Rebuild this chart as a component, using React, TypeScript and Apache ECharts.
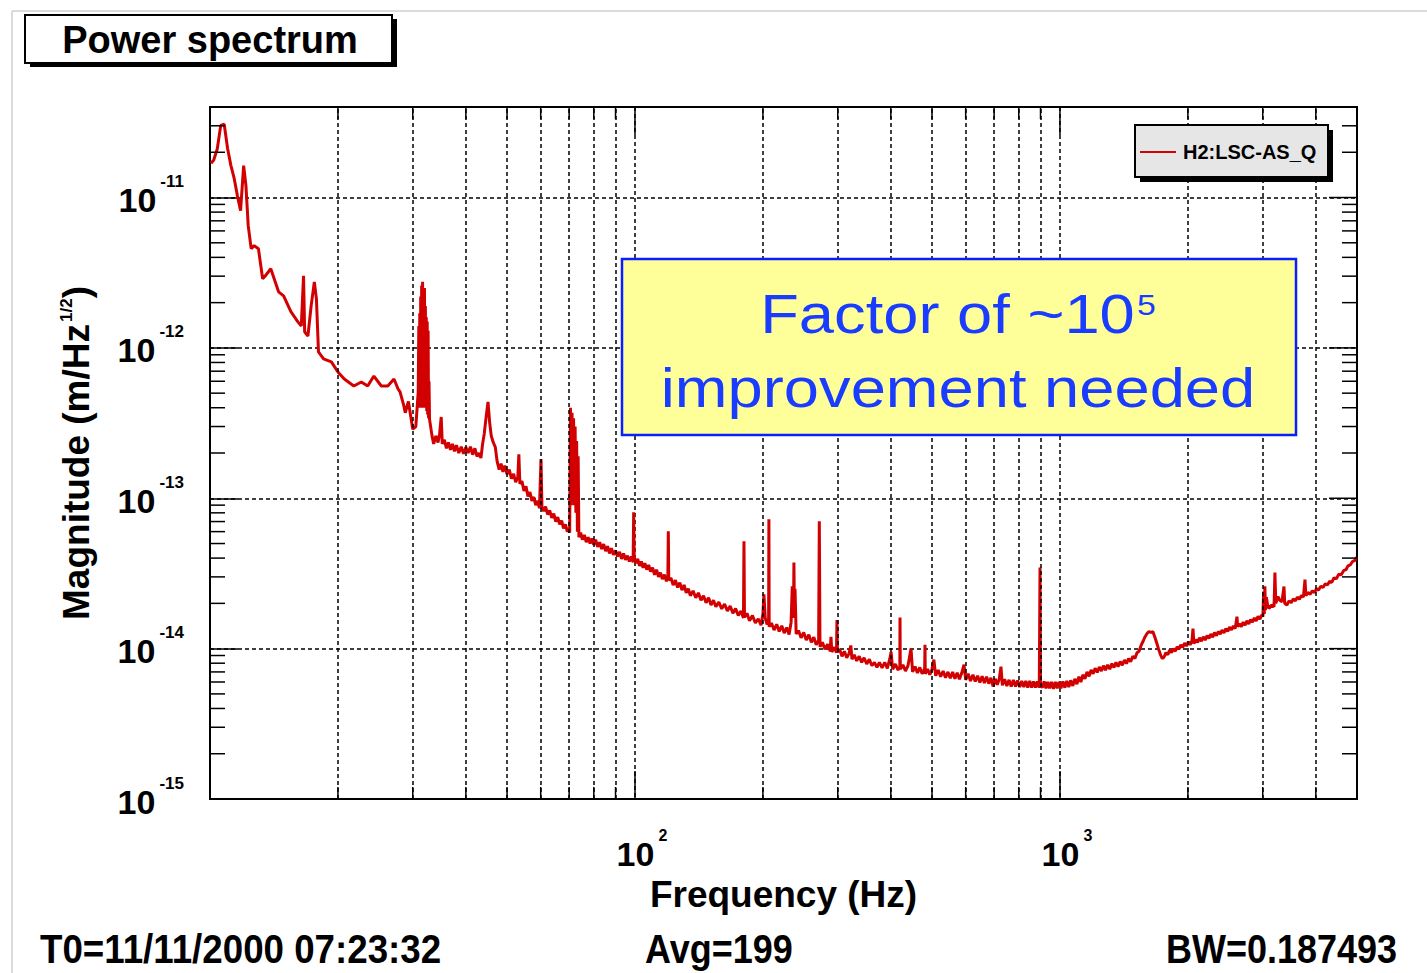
import React, { useEffect, useRef } from 'react';
import * as echarts from 'echarts';

const X_MIN = 10;
const X_MAX = 5000;
const Y_MIN = 1e-15;
const Y_MAX = 4e-11;

const SERIES_NAME = 'H2:LSC-AS_Q';
const TITLE = 'Power spectrum';
const X_NAME = 'Frequency (Hz)';
const INFO_TEXTS = ['T0=11/11/2000 07:23:32', 'Avg=199', 'BW=0.187493'];
const NOTE_LINE1 = 'Factor of ~10';
const NOTE_SUP = '5';
const NOTE_LINE2 = 'improvement needed';

// [frequency (Hz), magnitude (m/Hz^1/2)]
const lowBand = [
  [10.05, 1.69e-11], [10.2, 1.77e-11], [10.4, 2.1e-11], [10.6, 3.02e-11], [10.8, 3.07e-11], [11.0, 2.12e-11], [11.2, 1.63e-11],
  [11.4, 1.34e-11], [11.6, 1.03e-11], [11.8, 8.18e-12], [11.9, 1.15e-11], [12.0, 1.63e-11], [12.15, 1.2e-11], [12.3, 6.5e-12],
  [12.5, 4.57e-12], [12.7, 4.79e-12], [13.0, 4.57e-12], [13.3, 2.88e-12], [13.5, 3.02e-12], [13.9, 3.36e-12], [14.5, 2.36e-12],
  [14.9, 2.22e-12], [15.5, 1.74e-12], [16.1, 1.49e-12], [16.4, 1.4e-12], [16.6, 3.02e-12], [16.7, 1.28e-12], [17.0, 1.2e-12],
  [17.3, 1.91e-12], [17.6, 2.75e-12], [17.8, 2.12e-12], [18.0, 9.4e-13], [18.5, 8.45e-13], [19.3, 8.07e-13], [20.0, 6.92e-13],
  [20.7, 6.21e-13], [21.8, 5.58e-13], [22.7, 5.93e-13], [23.5, 5.58e-13], [24.3, 6.5e-13], [25.3, 5.58e-13], [26.2, 5.58e-13],
  [27.1, 6.21e-13], [27.7, 5.33e-13], [28.0, 5.1e-13], [28.6, 4.1e-13], [28.8, 3.7e-13], [29.3, 4.4e-13], [30.0, 2.88e-13],
  [30.5, 3.0e-13], [30.9, 5.1e-13],
  [31.0, 1.4e-12], [31.08, 4.0e-13], [31.16, 1.7e-12], [31.24, 4.5e-13], [31.32, 2.2e-12], [31.4, 4.0e-13], [31.48, 2.6e-12],
  [31.56, 5.0e-13], [31.64, 2.75e-12], [31.72, 4.5e-13], [31.8, 2.4e-12], [31.88, 4.0e-13], [31.96, 2.5e-12], [32.04, 4.2e-13],
  [32.12, 1.9e-12], [32.2, 4.0e-13], [32.28, 1.6e-12], [32.36, 3.8e-13], [32.44, 1.5e-12], [32.52, 3.6e-13], [32.6, 1.3e-12],
  [32.68, 3.4e-13], [32.76, 6e-13], [32.85, 3.36e-13],
];

const midBand = [
  [33.3, 2.6e-13], [33.6, 2.3e-13], [34.0, 2.6e-13], [34.4, 2.35e-13], [34.7, 2.7e-13], [35.0, 3.47e-13], [35.2, 2.3e-13],
  [35.6, 2.45e-13], [36.0, 2.15e-13], [36.4, 2.35e-13], [36.8, 2.1e-13], [37.2, 2.3e-13], [37.6, 2.05e-13], [38.0, 2.25e-13],
  [38.5, 2.0e-13], [39.0, 2.2e-13], [39.5, 1.98e-13], [40.0, 2.18e-13], [40.5, 2.0e-13], [41.0, 2.2e-13], [41.5, 1.95e-13],
  [42.0, 2.15e-13], [42.5, 1.9e-13], [43.0, 2.0e-13], [43.4, 1.85e-13], [43.8, 2.3e-13], [44.2, 2.7e-13], [44.6, 3.4e-13],
  [45.1, 4.37e-13], [45.5, 3.2e-13], [45.9, 2.6e-13], [46.4, 2.35e-13], [46.9, 2.2e-13], [47.4, 1.75e-13], [47.9, 1.55e-13],
  [48.4, 1.7e-13], [48.9, 1.5e-13], [49.4, 1.65e-13], [50.0, 1.45e-13], [50.6, 1.55e-13], [51.2, 1.35e-13], [51.8, 1.45e-13],
  [52.4, 1.28e-13], [53.0, 1.38e-13], [53.3, 1.96e-13], [53.6, 1.25e-13], [54.2, 1.3e-13], [54.8, 1.12e-13], [55.4, 1.2e-13],
  [56.0, 1.03e-13], [56.6, 1.1e-13], [57.2, 9.6e-14], [57.8, 1.02e-13], [58.4, 9.0e-14], [59.0, 9.6e-14], [59.6, 8.6e-14],
  [60.1, 1.82e-13], [60.4, 8.8e-14], [61.0, 8.2e-14], [61.6, 8.8e-14], [62.3, 7.8e-14], [63.0, 8.3e-14], [63.7, 7.4e-14],
  [64.4, 7.9e-14], [65.1, 7.0e-14], [65.8, 7.5e-14], [66.5, 6.7e-14], [67.2, 7.1e-14], [67.9, 6.3e-14], [68.6, 6.7e-14],
  [69.3, 6.0e-14], [70.0, 6.3e-14],
  [70.2, 5.9e-14], [70.5, 4.0e-13], [70.8, 9e-14], [71.1, 3.7e-13], [71.4, 1.0e-13], [71.7, 3.4e-13], [72.0, 9e-14],
  [72.3, 3.0e-13], [72.6, 8e-14], [72.9, 2.4e-13], [73.2, 6e-14], [73.5, 1.9e-13], [73.8, 5.5e-14],
  [74.5, 5.9e-14], [75.2, 5.3e-14], [76.0, 5.7e-14], [76.8, 5.1e-14], [77.6, 5.5e-14], [78.4, 5.0e-14], [79.2, 5.4e-14],
  [80.0, 4.9e-14], [80.8, 5.3e-14], [81.7, 4.75e-14], [82.6, 5.1e-14], [83.5, 4.6e-14], [84.4, 4.95e-14], [85.3, 4.45e-14],
  [86.2, 4.8e-14], [87.1, 4.3e-14], [88.0, 4.65e-14], [89.0, 4.2e-14], [90.0, 4.5e-14], [91.0, 4.1e-14], [92.0, 4.4e-14],
  [93.0, 3.95e-14], [94.0, 4.3e-14], [95.0, 3.9e-14], [96.0, 4.15e-14], [97.0, 3.8e-14], [98.0, 4.1e-14], [99.0, 3.75e-14],
  [99.3, 8.07e-14], [99.6, 4.0e-14],
];

const highBand = [
  [100.5, 3.7e-14], [101.5, 3.95e-14], [102.5, 3.55e-14], [103.5, 3.8e-14], [104.5, 3.45e-14], [105.5, 3.7e-14], [106.6, 3.35e-14],
  [107.7, 3.6e-14], [108.8, 3.25e-14], [110.0, 3.45e-14], [111.2, 3.1e-14], [112.4, 3.35e-14], [113.6, 3.0e-14], [114.8, 3.2e-14],
  [116.0, 2.9e-14], [117.3, 3.1e-14], [118.6, 2.8e-14], [119.5, 3.0e-14], [119.8, 6.03e-14], [120.1, 2.85e-14], [121.5, 2.95e-14],
  [123.0, 2.65e-14], [124.5, 2.85e-14], [126.0, 2.55e-14], [127.5, 2.75e-14], [129.0, 2.45e-14], [130.5, 2.65e-14], [132.0, 2.35e-14],
  [133.5, 2.5e-14], [135.0, 2.25e-14], [137.0, 2.42e-14], [139.0, 2.18e-14], [141.0, 2.35e-14], [143.0, 2.1e-14], [145.0, 2.25e-14],
  [147.0, 2.02e-14], [149.0, 2.18e-14], [151.0, 1.95e-14], [153.0, 2.1e-14], [155.0, 1.9e-14], [157.5, 2.04e-14], [160.0, 1.84e-14],
  [162.5, 1.98e-14], [165.0, 1.78e-14], [167.5, 1.92e-14], [170.0, 1.72e-14], [172.5, 1.85e-14], [175.0, 1.66e-14], [177.5, 1.78e-14],
  [180.0, 1.6e-14], [180.5, 5.17e-14], [181.0, 1.62e-14], [183.5, 1.72e-14], [186.0, 1.53e-14], [189.0, 1.66e-14], [192.0, 1.48e-14],
  [195.0, 1.58e-14], [198.0, 1.43e-14], [200.0, 1.7e-14], [201.1, 2.3e-14], [202.5, 1.6e-14], [204.5, 1.45e-14], [206.3, 1.5e-14],
  [206.6, 7.24e-14], [206.9, 1.4e-14], [209.5, 1.48e-14], [212.5, 1.33e-14], [215.5, 1.45e-14], [218.5, 1.3e-14], [221.5, 1.42e-14],
  [224.5, 1.27e-14], [227.5, 1.38e-14], [230.5, 1.24e-14], [233.0, 1.5e-14], [234.5, 2.6e-14], [236.0, 1.6e-14], [236.6, 3.74e-14],
  [237.2, 1.8e-14], [238.0, 2.5e-14], [239.5, 1.25e-14], [242.5, 1.32e-14], [246.0, 1.18e-14], [249.5, 1.28e-14], [253.0, 1.14e-14],
  [256.5, 1.24e-14], [260.0, 1.1e-14], [263.5, 1.19e-14], [267.0, 1.06e-14], [270.5, 1.14e-14], [271.5, 7.03e-14], [272.5, 1.03e-14],
  [276.0, 1.1e-14], [280.0, 9.9e-15], [284.0, 1.07e-14], [288.0, 9.6e-15], [289.2, 1.2e-14], [290.5, 9.5e-15], [294.5, 1.02e-14],
  [298.0, 9.4e-15], [298.7, 1.55e-14], [299.5, 9.5e-15], [303.0, 9.9e-15], [307.0, 8.9e-15], [311.0, 9.6e-15], [315.0, 8.7e-15],
  [319.0, 9.3e-15], [322.0, 1.05e-14], [324.0, 8.5e-15], [328.0, 9.1e-15], [332.5, 8.3e-15], [337.0, 8.9e-15], [341.5, 8.1e-15],
  [346.0, 8.7e-15], [351.0, 7.9e-15], [356.0, 8.5e-15], [361.0, 7.7e-15], [366.0, 8.1e-15], [371.0, 7.5e-15], [376.0, 8.1e-15],
  [381.5, 7.45e-15], [387.0, 8.1e-15], [392.5, 7.4e-15], [398.0, 8.6e-15], [400.5, 9.5e-15], [404.0, 7.3e-15], [410.0, 7.9e-15],
  [416.0, 7.2e-15], [420.0, 7.6e-15], [420.4, 1.61e-14], [421.0, 7.3e-15], [427.0, 7.8e-15], [433.0, 7.1e-15], [439.0, 7.7e-15],
  [446.2, 1.0e-14], [450.0, 7.0e-15], [456.0, 7.6e-15], [462.0, 6.9e-15], [468.0, 7.5e-15], [474.0, 6.8e-15], [480.5, 7.4e-15],
  [481.3, 1.06e-14], [482.0, 6.8e-15], [488.0, 7.3e-15], [494.0, 6.7e-15], [500.0, 7.3e-15], [505.0, 8.45e-15], [510.0, 6.6e-15],
  [517.0, 7.2e-15], [524.0, 6.5e-15], [531.0, 7.1e-15], [538.0, 6.4e-15], [545.0, 7.0e-15], [552.0, 6.35e-15], [559.0, 7.0e-15],
  [566.0, 6.3e-15], [573.0, 6.9e-15], [580.0, 6.25e-15], [587.0, 6.85e-15], [594.6, 7.82e-15], [600.0, 6.2e-15], [608.0, 6.8e-15],
  [616.0, 6.1e-15], [624.0, 6.7e-15], [632.0, 6.05e-15], [640.0, 6.6e-15], [648.0, 5.95e-15], [656.0, 6.55e-15], [664.0, 5.9e-15],
  [672.0, 6.5e-15], [680.0, 5.85e-15], [688.0, 6.4e-15], [696.0, 5.6e-15], [704.0, 6.3e-15], [712.0, 5.75e-15], [720.0, 6.3e-15],
  [726.4, 7.59e-15], [732.0, 5.7e-15], [741.0, 6.25e-15], [750.0, 5.65e-15], [759.0, 6.2e-15], [768.0, 5.6e-15], [777.0, 6.2e-15],
  [786.0, 5.6e-15], [795.0, 6.15e-15], [804.0, 5.55e-15], [813.0, 6.1e-15], [822.0, 5.55e-15], [831.0, 6.1e-15], [840.0, 5.5e-15],
  [849.0, 6.1e-15], [858.0, 5.5e-15], [867.0, 6.05e-15], [876.0, 5.5e-15], [885.0, 6.05e-15], [894.0, 5.5e-15], [897.6, 3.47e-14],
  [900.0, 5.8e-15], [909.0, 5.5e-15], [918.0, 6.05e-15], [927.0, 5.45e-15], [936.0, 6.0e-15], [945.0, 5.45e-15], [955.0, 6.0e-15],
  [965.0, 5.4e-15], [975.0, 6.0e-15], [985.0, 5.45e-15], [995.0, 6.0e-15],
];

const topBand = [
  [1005, 5.45e-15], [1016, 6.05e-15], [1027, 5.5e-15], [1038, 6.1e-15], [1049, 5.55e-15], [1060, 6.15e-15], [1072, 5.65e-15],
  [1084, 6.3e-15], [1096, 5.8e-15], [1108, 6.5e-15], [1120, 6.0e-15], [1132, 6.7e-15], [1145, 6.3e-15], [1158, 7.0e-15],
  [1171, 6.55e-15], [1184, 7.2e-15], [1197, 6.8e-15], [1210, 7.4e-15], [1224, 6.95e-15], [1238, 7.55e-15], [1252, 7.1e-15],
  [1266, 7.7e-15], [1280, 7.2e-15], [1295, 7.8e-15], [1310, 7.3e-15], [1325, 7.95e-15], [1340, 7.5e-15], [1355, 8.1e-15],
  [1370, 7.6e-15], [1386, 8.2e-15], [1402, 7.75e-15], [1418, 8.4e-15], [1434, 7.95e-15], [1450, 8.6e-15], [1467, 8.2e-15],
  [1484, 8.9e-15], [1501, 8.6e-15], [1518, 9.4e-15], [1535, 9.6e-15], [1552, 1.05e-14], [1569, 1.12e-14], [1586, 1.2e-14],
  [1603, 1.26e-14], [1620, 1.3e-14], [1637, 1.28e-14], [1654, 1.3e-14], [1671, 1.2e-14], [1688, 1.1e-14], [1705, 1.0e-14],
  [1722, 9.2e-15], [1740, 8.6e-15], [1758, 8.8e-15], [1776, 9.4e-15], [1794, 9.1e-15], [1812, 9.8e-15], [1830, 9.4e-15],
  [1849, 1.0e-14], [1868, 9.6e-15], [1887, 1.03e-14], [1906, 9.9e-15], [1925, 1.06e-14], [1945, 1.02e-14], [1965, 1.09e-14],
  [1985, 1.04e-14], [2005, 1.11e-14], [2025, 1.06e-14], [2045, 1.13e-14], [2056, 1.36e-14], [2066, 1.08e-14], [2087, 1.15e-14],
  [2108, 1.1e-14], [2130, 1.18e-14], [2152, 1.12e-14], [2174, 1.2e-14], [2196, 1.14e-14], [2219, 1.22e-14], [2242, 1.17e-14],
  [2265, 1.25e-14], [2288, 1.19e-14], [2311, 1.28e-14], [2335, 1.22e-14], [2359, 1.3e-14], [2383, 1.25e-14], [2407, 1.33e-14],
  [2432, 1.27e-14], [2457, 1.36e-14], [2482, 1.3e-14], [2507, 1.39e-14], [2533, 1.33e-14], [2559, 1.42e-14], [2585, 1.36e-14],
  [2609, 1.63e-14], [2620, 1.4e-14], [2645, 1.46e-14], [2672, 1.4e-14], [2699, 1.5e-14], [2726, 1.43e-14], [2754, 1.53e-14],
  [2782, 1.46e-14], [2810, 1.56e-14], [2838, 1.5e-14], [2867, 1.6e-14], [2896, 1.53e-14], [2925, 1.64e-14], [2955, 1.57e-14],
  [2985, 1.68e-14], [3003, 1.63e-14], [3015, 2.4e-14], [3025, 1.7e-14], [3035, 2.6e-14], [3045, 1.8e-14], [3060, 2.2e-14],
  [3080, 1.95e-14], [3103, 1.85e-14], [3150, 1.95e-14], [3190, 1.9e-14], [3205, 3.21e-14], [3220, 2.0e-14], [3258, 2.22e-14],
  [3290, 2.1e-14], [3330, 2.05e-14], [3366, 2.59e-14], [3380, 2.0e-14], [3420, 1.95e-14], [3460, 2.08e-14], [3500, 2.02e-14],
  [3540, 2.14e-14], [3580, 2.08e-14], [3620, 2.2e-14], [3660, 2.13e-14], [3700, 2.26e-14], [3740, 2.2e-14], [3772, 2.88e-14],
  [3790, 2.25e-14], [3833, 2.36e-14], [3880, 2.3e-14], [3925, 2.42e-14], [3970, 2.36e-14], [4015, 2.5e-14], [4060, 2.45e-14],
  [4110, 2.6e-14], [4160, 2.55e-14], [4210, 2.7e-14], [4260, 2.65e-14], [4310, 2.8e-14], [4360, 2.76e-14], [4413, 2.95e-14],
  [4470, 2.92e-14], [4530, 3.12e-14], [4590, 3.1e-14], [4650, 3.3e-14], [4710, 3.35e-14], [4761, 3.55e-14], [4820, 3.6e-14],
  [4880, 3.8e-14], [4940, 3.85e-14], [4990, 4.05e-14],
];

// grid / tick positions
const xMinorGrid = [20, 30, 40, 50, 60, 70, 80, 90, 200, 300, 400, 500, 600, 700, 800, 900, 2000, 3000, 4000];
const xMajorTicks = [100, 1000];
const yMantissas = [2, 3, 4, 5, 6, 7, 8, 9];
const yDecades = [-15, -14, -13, -12, -11];
const yMajorTicks = [1e-14, 1e-13, 1e-12, 1e-11];

const FONT = "'Liberation Sans', Arial, Helvetica, sans-serif";
const TRACE_COLOR = '#d20000';

function buildTickData() {
  const d: number[][] = [];
  yDecades.forEach((e) => {
    yMantissas.forEach((m) => {
      const v = m * Math.pow(10, e);
      if (v < Y_MAX) d.push([X_MIN, v, 0]);
    });
  });
  yMajorTicks.forEach((v) => d.push([X_MIN, v, 1]));
  xMinorGrid.forEach((f) => d.push([f, Y_MIN, 2]));
  xMajorTicks.forEach((f) => d.push([f, Y_MIN, 3]));
  return d;
}

function decadeExp(v: number): number | null {
  const e = Math.log10(v);
  const r = Math.round(e);
  if (Math.abs(e - r) > 1e-6) return null;
  return r;
}

export default function App() {
  const ref = useRef<HTMLDivElement>(null);

  useEffect(() => {
    if (!ref.current) return;
    const chart = echarts.init(ref.current, undefined, { renderer: 'svg' });
    const trace = [...lowBand, ...midBand, ...highBand, ...topBand];

    const option: any = {
      animation: false,
      backgroundColor: '#ffffff',
      textStyle: { fontFamily: FONT },
      grid: {
        left: 210,
        top: 107,
        width: 1147,
        height: 692,
        show: true,
        borderColor: '#000',
        borderWidth: 2,
        backgroundColor: 'transparent',
      },
      xAxis: {
        type: 'log',
        logBase: 10,
        min: X_MIN,
        max: X_MAX,
        name: X_NAME,
        nameLocation: 'middle',
        nameGap: 68,
        nameTextStyle: { fontSize: 37, fontWeight: 'bold', color: '#000', fontFamily: FONT },
        axisLine: { show: true, lineStyle: { color: '#000', width: 2 } },
        axisTick: { show: true, inside: true, length: 28, lineStyle: { color: '#000', width: 1.5 } },
        splitLine: { show: true, lineStyle: { color: '#000', width: 1.5, type: [4, 3] } },
        axisLabel: {
          margin: 28,
          color: '#000',
          formatter: (v: number) => {
            const r = decadeExp(v);
            if (r === null || r === 1) return '';
            return `{b|10}{s|${r}}`;
          },
          rich: {
            b: { fontSize: 34, fontWeight: 'bold', lineHeight: 34, verticalAlign: 'top', color: '#000', fontFamily: FONT, padding: [10, 0, 0, 14] },
            s: { fontSize: 16, fontWeight: 'bold', lineHeight: 16, verticalAlign: 'top', color: '#000', fontFamily: FONT, padding: [0, 0, 0, 4] },
          },
        },
      },
      yAxis: {
        type: 'log',
        logBase: 10,
        min: Y_MIN,
        max: Y_MAX,
        name: '{a|Magnitude (m/Hz}{s|1/2}{a|)}',
        nameLocation: 'middle',
        nameRotate: 90,
        nameGap: 115,
        nameTextStyle: {
          color: '#000',
          rich: {
            a: { fontSize: 37, fontWeight: 'bold', lineHeight: 37, verticalAlign: 'bottom', color: '#000', fontFamily: FONT },
            s: { fontSize: 17, fontWeight: 'bold', lineHeight: 17, verticalAlign: 'top', color: '#000', fontFamily: FONT, padding: [0, 0, 26, 2] },
          },
        },
        axisLine: { show: true, lineStyle: { color: '#000', width: 2 } },
        axisTick: { show: true, inside: true, length: 28, lineStyle: { color: '#000', width: 1.5 } },
        splitLine: { show: true, lineStyle: { color: '#000', width: 1.5, type: [4, 3] } },
        axisLabel: {
          margin: 26,
          color: '#000',
          padding: [0, 0, 15, 0],
          formatter: (v: number) => {
            const r = decadeExp(v);
            if (r === null) return '';
            return `{b|10}{s|${r}}`;
          },
          rich: {
            b: { fontSize: 34, fontWeight: 'bold', lineHeight: 34, verticalAlign: 'top', color: '#000', fontFamily: FONT, padding: [10, 0, 0, 0] },
            s: { fontSize: 17, fontWeight: 'bold', lineHeight: 17, verticalAlign: 'top', color: '#000', fontFamily: FONT, padding: [0, 0, 0, 4] },
          },
        },
      },
      series: [
        {
          type: 'line',
          name: 'grid',
          data: [[X_MIN, Y_MIN]],
          showSymbol: false,
          symbol: 'none',
          silent: true,
          z: 1,
          lineStyle: { opacity: 0 },
          markLine: {
            silent: true,
            symbol: ['none', 'none'],
            label: { show: false },
            lineStyle: { color: '#000', width: 1.5, type: [4, 3] },
            data: xMinorGrid.map((v) => ({ xAxis: v })),
            animation: false,
          },
        },
        {
          type: 'line',
          name: SERIES_NAME,
          data: trace,
          showSymbol: false,
          symbol: 'none',
          z: 3,
          lineStyle: { color: TRACE_COLOR, width: 3 },
        },
        {
          type: 'custom',
          name: 'ticks',
          silent: true,
          z: 4,
          data: buildTickData(),
          renderItem: (params: any, api: any) => {
            const cs = params.coordSys;
            const kind = api.value(2);
            const p = api.coord([api.value(0), api.value(1)]);
            const st = { stroke: '#000', lineWidth: 1.5 };
            const children: any[] = [];
            if (kind === 0 || kind === 1) {
              const len = kind === 0 ? 15 : 28;
              children.push({ type: 'line', shape: { x1: cs.x + cs.width - len, y1: p[1], x2: cs.x + cs.width, y2: p[1] }, style: st });
              if (kind === 0) children.push({ type: 'line', shape: { x1: cs.x, y1: p[1], x2: cs.x + len, y2: p[1] }, style: st });
            } else {
              const len = kind === 2 ? 12 : 28;
              children.push({ type: 'line', shape: { x1: p[0], y1: cs.y, x2: p[0], y2: cs.y + len }, style: st });
              if (kind === 2) children.push({ type: 'line', shape: { x1: p[0], y1: cs.y + cs.height - len, x2: p[0], y2: cs.y + cs.height }, style: st });
            }
            return { type: 'group', children };
          },
        },
      ],
      graphic: [
        { type: 'line', shape: { x1: 12, y1: 11, x2: 1427, y2: 11 }, style: { stroke: '#cfcfcf', lineWidth: 1.5 }, silent: true },
        { type: 'line', shape: { x1: 12, y1: 11, x2: 12, y2: 973 }, style: { stroke: '#cfcfcf', lineWidth: 1.5 }, silent: true },
        // title box
        { type: 'rect', shape: { x: 30, y: 19, width: 367, height: 48 }, style: { fill: '#000' }, silent: true },
        { type: 'rect', shape: { x: 25, y: 15, width: 367, height: 48 }, style: { fill: '#fff', stroke: '#000', lineWidth: 2 }, silent: true },
        { type: 'text', x: 210, y: 40, style: { text: TITLE, font: `bold 38px ${FONT}`, fill: '#000', align: 'center', verticalAlign: 'middle' }, silent: true },
        // legend box
        { type: 'rect', shape: { x: 1140, y: 130, width: 193, height: 52 }, style: { fill: '#000' }, silent: true, z: 100 },
        { type: 'rect', shape: { x: 1135, y: 125, width: 193, height: 52 }, style: { fill: '#e6e6e6', stroke: '#000', lineWidth: 2 }, silent: true, z: 101 },
        { type: 'line', shape: { x1: 1140, y1: 152, x2: 1176, y2: 152 }, style: { stroke: TRACE_COLOR, lineWidth: 2 }, silent: true, z: 102 },
        { type: 'text', x: 1183, y: 152, z: 102, style: { text: SERIES_NAME, font: `bold 20px ${FONT}`, fill: '#000', align: 'left', verticalAlign: 'middle' }, silent: true },
        // note box
        { type: 'rect', shape: { x: 622, y: 259, width: 674, height: 176 }, style: { fill: '#ffff99', stroke: '#0a1eff', lineWidth: 2.5 }, silent: true, z: 100 },
        {
          type: 'text', x: 958, y: 312, scaleX: 1.13, z: 101, silent: true,
          style: {
            text: `{a|${NOTE_LINE1}}{s|${NOTE_SUP}}`,
            align: 'center', verticalAlign: 'middle',
            rich: {
              a: { fontSize: 56, lineHeight: 60, fontFamily: FONT, fill: '#1a3cff', verticalAlign: 'bottom' },
              s: { fontSize: 30, lineHeight: 30, fontFamily: FONT, fill: '#1a3cff', verticalAlign: 'top', padding: [8, 0, 0, 2] },
            },
          },
        },
        { type: 'text', x: 958, y: 388, scaleX: 1.13, z: 101, silent: true, style: { text: NOTE_LINE2, font: `56px ${FONT}`, fill: '#1a3cff', align: 'center', verticalAlign: 'middle' } },
        // info line
        { type: 'text', x: 40, y: 949, scaleX: 1.02, scaleY: 1.15, silent: true, style: { text: INFO_TEXTS[0], font: `bold 36px ${FONT}`, fill: '#000', align: 'left', verticalAlign: 'middle' } },
        { type: 'text', x: 645, y: 949, scaleY: 1.15, silent: true, style: { text: INFO_TEXTS[1], font: `bold 36px ${FONT}`, fill: '#000', align: 'left', verticalAlign: 'middle' } },
        { type: 'text', x: 1397, y: 949, scaleY: 1.15, silent: true, style: { text: INFO_TEXTS[2], font: `bold 36px ${FONT}`, fill: '#000', align: 'right', verticalAlign: 'middle' } },
      ],
    };
    chart.setOption(option);
    return () => chart.dispose();
  }, []);

  return (
    <div
      ref={ref}
      style={{ position: 'absolute', left: 0, top: 0, width: 1427, height: 973, background: '#fff' }}
    />
  );
}
